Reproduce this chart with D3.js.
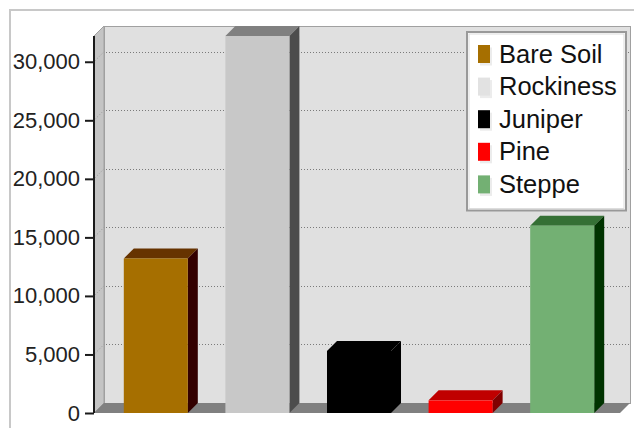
<!DOCTYPE html>
<html><head><meta charset="utf-8">
<script src="https://cdn.jsdelivr.net/npm/d3@7/dist/d3.min.js"></script>
<style>body{margin:0;background:#fff}svg{display:block}</style>
</head><body>
<svg id="c" width="634" height="428"></svg>
<script>
const categories = ["Bare Soil", "Rockiness", "Juniper", "Pine", "Steppe"];
const values = [13200, 32200, 5300, 1080, 16000];
const frontColors = ["#a66f00", "#c8c8c8", "#000000", "#ff0000", "#73b073"];
const topColors = ["#663300", "#808080", "#000000", "#c00000", "#357035"];
const sideColors = ["#330000", "#4c4c4c", "#000000", "#800000", "#003300"];
const legendColors = ["#a66f00", "#e2e2e2", "#000000", "#ff0000", "#73b073"];
const tickValues = [0, 5000, 10000, 15000, 20000, 25000, 30000];

const svg = d3.select("#c");
const D = 10; // 3D depth
const x0 = 94, floorRight = 620;
const y = d3.scaleLinear().domain([0, d3.max(values)]).range([413, 36]);
const x = d3.scaleBand().domain(categories).range([105, 613]).paddingInner(0.37).paddingOuter(0.185);
const yBack = y(0), yTop = y.range()[1];

// outer frame
svg.append("rect").attr("x", 10).attr("y", 10).attr("width", 640).attr("height", 440)
  .attr("fill", "#fff").attr("stroke", "#c8c8c8").attr("stroke-width", 2);

// back wall
svg.append("rect").attr("x", x0 + D + 0.5).attr("y", yTop - D + 0.5)
  .attr("width", floorRight + D - (x0 + D)).attr("height", yBack - yTop)
  .attr("fill", "#e0e0e0").attr("stroke", "#a0a0a0").attr("stroke-width", 1);

// left wall
svg.append("path")
  .attr("d", `M${x0},${yTop}L${x0 + D},${yTop - D}L${x0 + D},${yBack - D}L${x0},${yBack}Z`)
  .attr("fill", "#c4c4c4").attr("stroke", "#a0a0a0").attr("stroke-width", 1);

// gridlines
const grid = tickValues.filter(v => v > 0);
svg.append("g").selectAll("line").data(grid).join("line")
  .attr("x1", x0 + D + 2).attr("x2", floorRight + D - 1)
  .attr("y1", d => Math.round(y(d) - D) + 0.5).attr("y2", d => Math.round(y(d) - D) + 0.5)
  .attr("stroke", "#7a7a7a").attr("stroke-dasharray", "1,2").attr("stroke-width", 1);
svg.append("g").selectAll("line").data(grid).join("line")
  .attr("x1", x0 + 1).attr("x2", x0 + D)
  .attr("y1", d => y(d) - 1).attr("y2", d => y(d) - D)
  .attr("stroke", "#999").attr("stroke-dasharray", "1,2").attr("stroke-width", 1);

// floor
svg.append("path")
  .attr("d", `M${x0},${yBack}L${x0 + D},${yBack - D}L${floorRight + D},${yBack - D}L${floorRight},${yBack}Z`)
  .attr("fill", "#808080");

// bars
const bars = svg.append("g").selectAll("g").data(categories).join("g");
const bw = x.bandwidth();
bars.append("path") // top
  .attr("d", (c, i) => { const l = x(c), t = y(values[i]);
    return `M${l},${t}L${l + D},${t - D}L${l + bw + D},${t - D}L${l + bw},${t}Z`; })
  .attr("fill", (c, i) => topColors[i]);
bars.append("path") // side
  .attr("d", (c, i) => { const r = x(c) + bw, t = y(values[i]);
    return `M${r},${t}L${r + D},${t - D}L${r + D},${yBack - D}L${r},${yBack}Z`; })
  .attr("fill", (c, i) => sideColors[i]);
bars.append("rect") // front
  .attr("x", c => x(c)).attr("width", bw)
  .attr("y", (c, i) => y(values[i])).attr("height", (c, i) => yBack - y(values[i]))
  .attr("fill", (c, i) => frontColors[i]);

// axis
const axis = svg.append("g").attr("transform", `translate(${x0},0)`)
  .call(d3.axisLeft(y).tickValues(tickValues).tickFormat(d3.format(",")).tickSize(9).tickPadding(5));
axis.select(".domain").attr("stroke", "#1a1a1a").attr("stroke-width", 2).attr("d", `M0,${yTop}V${yBack}`);
axis.selectAll(".tick line").attr("stroke", "#1a1a1a").attr("stroke-width", 2);
axis.selectAll(".tick text").attr("font-family", "Liberation Sans, Arial, sans-serif")
  .attr("font-size", 22).attr("fill", "#222");

// legend
const lg = svg.append("g");
lg.append("rect").attr("x", 467).attr("y", 32).attr("width", 159).attr("height", 178.5)
  .attr("fill", "#fff").attr("stroke", "#999").attr("stroke-width", 2);
lg.append("rect").attr("x", 469).attr("y", 34).attr("width", 155).attr("height", 174.5)
  .attr("fill", "none").attr("stroke", "#ddd").attr("stroke-width", 1);
const items = lg.selectAll("g.item").data(categories).join("g").attr("class", "item")
  .attr("transform", (c, i) => `translate(0,${62.5 + i * 32.6})`);
items.append("rect").attr("x", 480).attr("y", -15).attr("width", 12).attr("height", 18).attr("fill", "#ececec");
items.append("rect").attr("x", 478).attr("y", -17.5).attr("width", 12).attr("height", 18)
  .attr("fill", (c, i) => legendColors[i]);
items.append("text").attr("x", 499).attr("y", 0).text(c => c)
  .attr("font-family", "Liberation Sans, Arial, sans-serif").attr("font-size", 25.5).attr("fill", "#111");
</script>
</body></html>
